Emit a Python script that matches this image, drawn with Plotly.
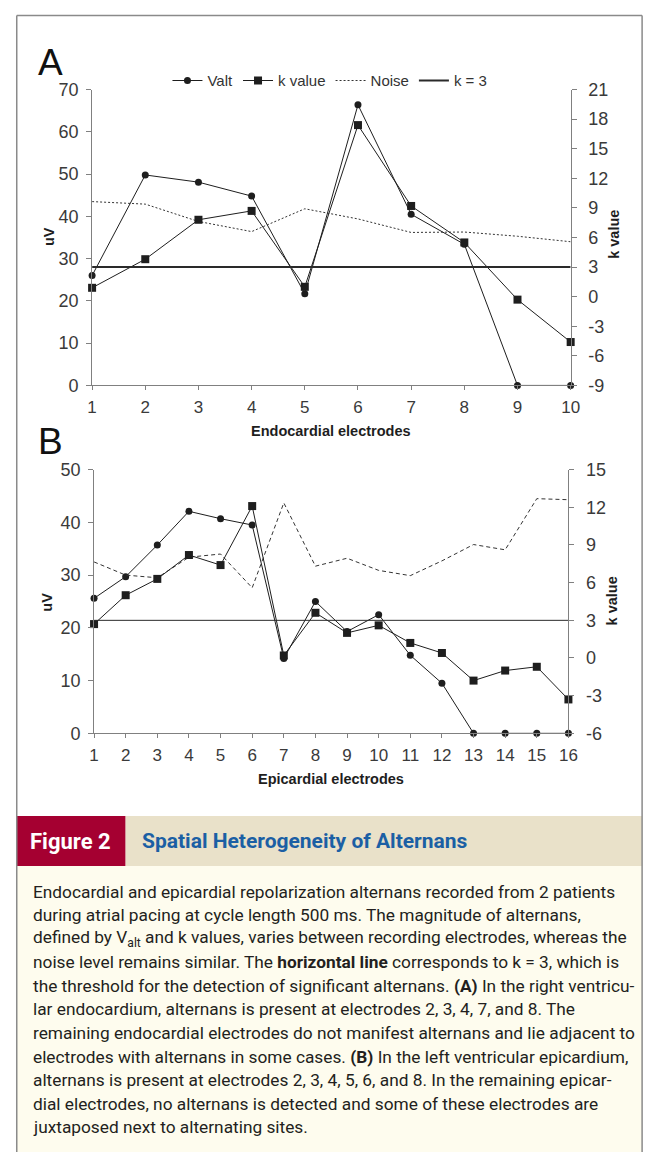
import plotly.graph_objects as go

W, H = 656, 1162

# Panel A: right-ventricular endocardium (uV on left axis, k on right axis)
electrodes_a = list(range(1, 11))
valt_a = [26.0, 49.8, 48.1, 44.8, 21.7, 66.4, 40.5, 33.4, 0.0, 0.0]
kvalue_a = [0.9, 3.8, 7.8, 8.7, 1.0, 17.4, 9.2, 5.5, -0.3, -4.6]
noise_a = [43.5, 42.9, 38.8, 36.4, 41.8, 39.4, 36.2, 36.3, 35.3, 34.0]

# Panel B: left-ventricular epicardium
electrodes_b = list(range(1, 17))
valt_b = [25.6, 29.7, 35.7, 42.1, 40.7, 39.5, 14.2, 25.0, 19.3, 22.5, 14.8, 9.5, 0.0, 0.0, 0.0, 0.0]
kvalue_b = [2.7, 5.0, 6.3, 8.2, 7.4, 12.1, 0.2, 3.6, 2.0, 2.6, 1.2, 0.4, -1.8, -1.0, -0.7, -3.3]
noise_b = [32.5, 30.0, 29.5, 33.4, 34.0, 27.6, 43.7, 31.7, 33.2, 30.9, 29.9, 32.7, 35.8, 34.8, 44.5, 44.3]

k_threshold = 3

uv_ticks_a = list(range(0, 71, 10))
k_ticks_a = list(range(-9, 22, 3))
uv_ticks_b = list(range(0, 51, 10))
k_ticks_b = list(range(-6, 16, 3))

caption_lines = [
    "Endocardial and epicardial repolarization alternans recorded from 2 patients",
    "during atrial pacing at cycle length 500 ms. The magnitude of alternans,",
    "defined by V<sub>alt</sub> and k values, varies between recording electrodes, whereas the",
    "noise level remains similar. The <b>horizontal line</b> corresponds to k = 3, which is",
    "the threshold for the detection of significant alternans. <b>(A)</b> In the right ventricu-",
    "lar endocardium, alternans is present at electrodes 2, 3, 4, 7, and 8. The",
    "remaining endocardial electrodes do not manifest alternans and lie adjacent to",
    "electrodes with alternans in some cases. <b>(B)</b> In the left ventricular epicardium,",
    "alternans is present at electrodes 2, 3, 4, 5, 6, and 8. In the remaining epicar-",
    "dial electrodes, no alternans is detected and some of these electrodes are",
    "juxtaposed next to alternating sites.",
]


def fx(px):
    return px / W


def fy(py):
    return 1 - py / H


INK = "#1e1e1e"
AXIS = "#808080"
LABEL = "#3a3a3a"

fig = go.Figure()


def add_panel(x, valt, kval, noise, yv, yk, noise_dash, thr_width, legend):
    fig.add_trace(go.Scatter(
        x=x, y=valt, name="Valt", mode="lines+markers", xaxis=yv[0], yaxis=yv[1],
        line=dict(color=INK, width=1), marker=dict(symbol="circle", size=7, color=INK),
        cliponaxis=False, showlegend=legend))
    fig.add_trace(go.Scatter(
        x=x, y=kval, name="k value", mode="lines+markers", xaxis=yk[0], yaxis=yk[1],
        line=dict(color=INK, width=1), marker=dict(symbol="square", size=8, color=INK),
        cliponaxis=False, showlegend=legend))
    fig.add_trace(go.Scatter(
        x=x, y=noise, name="Noise", mode="lines", xaxis=yv[0], yaxis=yv[1],
        line=dict(color="#333333", width=1, dash=noise_dash), showlegend=legend))
    fig.add_trace(go.Scatter(
        x=[x[0], x[-1]], y=[k_threshold, k_threshold], name="k = 3", mode="lines",
        xaxis=yk[0], yaxis=yk[1], line=dict(color="#2a2a2a", width=thr_width),
        showlegend=legend))


add_panel(electrodes_a, valt_a, kvalue_a, noise_a, ("x", "y"), ("x", "y2"), "2px,2px", 2, True)
add_panel(electrodes_b, valt_b, kvalue_b, noise_b, ("x2", "y3"), ("x2", "y4"), "4px,3px", 1, False)

xfont = dict(family="Liberation Sans, Arial, sans-serif", size=17, color=LABEL)
yfont = dict(family="Liberation Sans Narrow, Arial Narrow, sans-serif", size=18, color=LABEL)


def xax(domain, rng, anchor, ticks):
    return dict(domain=domain, range=rng, anchor=anchor, tickvals=ticks,
                ticktext=[str(t) for t in ticks],
                showline=True, linecolor=AXIS, linewidth=1, ticks="outside", ticklen=4,
                tickcolor=AXIS, showgrid=False, zeroline=False, tickfont=xfont,
                ticklabelstandoff=2, fixedrange=True)


def yax(domain, rng, anchor, ticks, side="left", overlaying=None, standoff=4):
    d = dict(range=rng, anchor=anchor, tickvals=ticks, ticktext=[str(t) for t in ticks],
             side=side, showline=True, linecolor=AXIS, linewidth=1, ticks="outside", ticklen=5,
             tickcolor=AXIS, showgrid=False, zeroline=False, tickfont=yfont,
             ticklabelstandoff=standoff, fixedrange=True)
    if overlaying:
        d["overlaying"] = overlaying
    else:
        d["domain"] = domain
    return d


def inner_ticks(rng, anchor, ticks, overlaying):
    # second set of tick marks so the right-hand axis ticks cross the line
    return dict(range=rng, anchor=anchor, tickvals=ticks, side="right", overlaying=overlaying,
                showline=False, ticks="inside", ticklen=5, tickcolor=AXIS,
                showticklabels=False, showgrid=False, zeroline=False, fixedrange=True)


dom_ax = [fx(89), fx(578)]
dom_ay = [fy(382), fy(81)]
dom_bx = [fx(91), fx(575.7)]
dom_by = [fy(736), fy(467.7)]

shapes = [
    # caption panel, header band and outer frame
    dict(type="rect", xref="paper", yref="paper", x0=fx(12), x1=fx(651), y0=fy(1162), y1=fy(871),
         fillcolor="#fefcee", line=dict(width=0), layer="below"),
    dict(type="rect", xref="paper", yref="paper", x0=fx(123), x1=fx(651), y0=fy(871), y1=fy(820),
         fillcolor="#e9e1c9", line=dict(width=0), layer="below"),
    dict(type="rect", xref="paper", yref="paper", x0=fx(12), x1=fx(123), y0=fy(871), y1=fy(820),
         fillcolor="#a50031", line=dict(width=0), layer="below"),
    dict(type="line", xref="paper", yref="paper", x0=fx(12), x1=fx(651), y0=fy(5.5), y1=fy(5.5),
         line=dict(color="#8a8a8a", width=1.5)),
    dict(type="line", xref="paper", yref="paper", x0=fx(12), x1=fx(12), y0=fy(5.5), y1=0,
         line=dict(color="#8a8a8a", width=1.5)),
    dict(type="line", xref="paper", yref="paper", x0=fx(651), x1=fx(651), y0=fy(5.5), y1=0,
         line=dict(color="#8a8a8a", width=1.5)),
]

title_font = dict(family="Liberation Sans, Arial, sans-serif", size=14.5, color="#1e1e1e")
ann = [
    dict(text="A", x=fx(47), y=fy(53), font=dict(family="Liberation Sans, Arial, sans-serif", size=37, color="#111")),
    dict(text="B", x=fx(47), y=fy(439), font=dict(family="Liberation Sans, Arial, sans-serif", size=37, color="#111")),
    dict(text="<b>uV</b>", x=fx(45), y=fy(231), textangle=-90, font=title_font),
    dict(text="<b>k value</b>", x=fx(622), y=fy(228), textangle=-90, font=title_font),
    dict(text="<b>Endocardial electrodes</b>", x=fx(333), y=fy(428), font=title_font),
    dict(text="<b>uV</b>", x=fx(43), y=fy(603), textangle=-90, font=title_font),
    dict(text="<b>k value</b>", x=fx(620), y=fy(601), textangle=-90, font=title_font),
    dict(text="<b>Epicardial electrodes</b>", x=fx(333), y=fy(782), font=title_font),
    dict(text="<b>Figure 2</b>", x=fx(67), y=fy(846),
         font=dict(family="Roboto, sans-serif", size=22, color="#ffffff")),
    dict(text="<b>Spatial Heterogeneity of Alternans</b>", x=fx(138), y=fy(846), xanchor="left",
         font=dict(family="Roboto, sans-serif", size=21, color="#1b5fa4")),
]
for i, line in enumerate(caption_lines):
    ann.append(dict(text=line, x=fx(27), y=fy(897 + 24 * i), xanchor="left",
                    font=dict(family="Roboto, sans-serif", size=17.3, color="#231f20")))
for a in ann:
    a.setdefault("xref", "paper")
    a.setdefault("yref", "paper")
    a.setdefault("showarrow", False)
    a.setdefault("xanchor", "center")
    a.setdefault("yanchor", "middle")

fig.update_layout(
    width=W, height=H, margin=dict(l=0, r=0, t=0, b=0),
    paper_bgcolor="#ffffff", plot_bgcolor="rgba(0,0,0,0)",
    xaxis=xax(dom_ax, [1, 10], "y", electrodes_a),
    yaxis=yax(dom_ay, [0, 70], "x", uv_ticks_a),
    yaxis2=yax(None, [-9, 21], "x", k_ticks_a, side="right", overlaying="y", standoff=8),
    xaxis2=xax(dom_bx, [1, 16], "y3", electrodes_b),
    yaxis3=yax(dom_by, [0, 50], "x2", uv_ticks_b),
    yaxis4=yax(None, [-6, 15], "x2", k_ticks_b, side="right", overlaying="y3", standoff=8),
    yaxis5=inner_ticks([-9, 21], "x", k_ticks_a, "y"),
    yaxis6=inner_ticks([-6, 15], "x2", k_ticks_b, "y3"),
    legend=dict(orientation="h", x=fx(166), y=fy(72), xanchor="left", yanchor="middle",
                font=dict(family="Liberation Sans, Arial, sans-serif", size=15, color="#333"),
                bgcolor="rgba(0,0,0,0)", itemwidth=30, tracegroupgap=0),
    shapes=shapes,
    annotations=ann,
    showlegend=True,
    hovermode=False,
)

fig.write_html("out.html")
